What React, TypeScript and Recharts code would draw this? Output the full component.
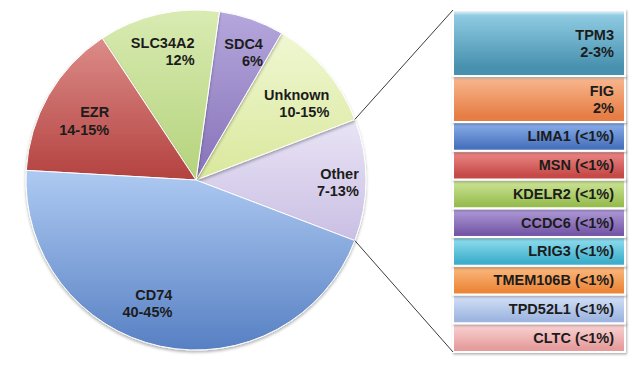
import React from 'react';
import { PieChart, Pie, Cell, BarChart, Bar, XAxis, YAxis, LabelList } from 'recharts';

// main pie (percent of the whole)
const pieNames = ['Other', 'Unknown', 'SDC4', 'SLC34A2', 'EZR', 'CD74'];
const pieValues = [11.6, 10.8, 6.2, 11.5, 14.8, 45.1];
const pieRanges = ['7-13%', '10-15%', '6%', '12%', '14-15%', '40-45%'];
const pieColors = [
  ['#e9e4f6', '#cabfe3'], // Other
  ['#f0f7d2', '#d9e89c'], // Unknown
  ['#b5a7dc', '#8672b9'], // SDC4
  ['#d9ebb2', '#b4d37c'], // SLC34A2
  ['#dc8c89', '#b3423f'], // EZR
  ['#aecaf2', '#5780c3'], // CD74
];
// small hand nudges so the labels sit where the original layout put them
const pieLabelNudge = [
  [8, 2],
  [0, 8],
  [5, -4],
  [-6, -1],
  [-2, 6],
  [-25, -5],
];

// breakdown of "Other", top to bottom
const barNames = ['TPM3', 'FIG', 'LIMA1', 'MSN', 'KDELR2', 'CCDC6', 'LRIG3', 'TMEM106B', 'TPD52L1', 'CLTC'];
const barValues = [2.3, 1.6, 1, 1, 1, 1, 1, 1, 1, 1];
const barRanges = ['2-3%', '2%', '<1%', '<1%', '<1%', '<1%', '<1%', '<1%', '<1%', '<1%'];
const barColors = [
  ['#8fcbe2', '#4690ae'], // TPM3
  ['#f8b48a', '#e57d45'], // FIG
  ['#86abe8', '#4772bd'], // LIMA1
  ['#ea8584', '#c44846'], // MSN
  ['#cbe394', '#98bd50'], // KDELR2
  ['#ad98d6', '#7558a8'], // CCDC6
  ['#8ddcee', '#3caecb'], // LRIG3
  ['#fbb77c', '#ec8638'], // TMEM106B
  ['#d3e0f6', '#9db5e0'], // TPD52L1
  ['#f9d1d1', '#e69c9c'], // CLTC
];

const W = 640;
const H = 365;
const PIE_CX = 196;
const PIE_CY = 180;
const PIE_R = 170;
const BAR_LEFT = 453;
const BAR_RIGHT = 625;
const BAR_TOP = 10;
const BAR_BOTTOM = 352;

const FONT = "'Liberation Sans', Arial, Helvetica, sans-serif";
const FS = 14.5;
const INK = '#1c1c1c';

const pieData = pieNames.map((name, i) => ({ name, value: pieValues[i], range: pieRanges[i] }));
const pieTotal = pieValues.reduce((a, b) => a + b, 0);
// "Other" is centred on 3 o'clock
const halfOther = (pieValues[0] / pieTotal) * 180;

const barRow: Record<string, number | string> = { name: 'Other' };
barNames.forEach((n, i) => {
  barRow[n] = barValues[i];
});
const barTotal = barValues.reduce((a, b) => a + b, 0);

const renderPieLabel = (props: any) => {
  const { cx, cy, midAngle, outerRadius, index } = props;
  const RAD = Math.PI / 180;
  const r = outerRadius * 0.77;
  const [nx, ny] = pieLabelNudge[index] || [0, 0];
  const x = cx + r * Math.cos(-midAngle * RAD) + nx;
  const y = cy + r * Math.sin(-midAngle * RAD) + ny;
  const lines = [pieNames[index], pieRanges[index]];
  const right = x + Math.max(...lines.map(l => l.length)) * FS * 0.33;
  return (
    <text x={right} y={y} textAnchor="end" fontFamily={FONT} fontWeight="bold" fontSize={FS} fill={INK}>
      <tspan x={right} y={y - 3.5}>{lines[0]}</tspan>
      <tspan x={right} y={y + 14}>{lines[1]}</tspan>
    </text>
  );
};

const renderBarLabel = (i: number) => (props: any) => {
  const vb = props.viewBox && props.viewBox.width !== undefined ? props.viewBox : props;
  const x = Number(vb.x);
  const y = Number(vb.y);
  const w = Number(vb.width);
  const h = Number(vb.height);
  const right = x + w - 11;
  const mid = y + h / 2;
  const range = barRanges[i];
  if (range.startsWith('<')) {
    return (
      <text x={right} y={mid + 5} textAnchor="end" fontFamily={FONT} fontWeight="bold" fontSize={FS} fill={INK}>
        {`${barNames[i]} (${range})`}
      </text>
    );
  }
  return (
    <text x={right} y={mid} textAnchor="end" fontFamily={FONT} fontWeight="bold" fontSize={FS} fill={INK}>
      <tspan x={right} y={mid - 3.5}>{barNames[i]}</tspan>
      <tspan x={right} y={mid + 14}>{range}</tspan>
    </text>
  );
};

export default function App() {
  const rad = (halfOther * Math.PI) / 180;
  const topX = PIE_CX + PIE_R * Math.cos(rad);
  const topY = PIE_CY - PIE_R * Math.sin(rad);
  const botY = PIE_CY + PIE_R * Math.sin(rad);

  return (
    <div style={{ position: 'absolute', left: 0, top: 0, width: W, height: H, background: '#fff' }}>
      <div style={{ position: 'absolute', left: 0, top: 0 }}>
        <PieChart width={W} height={H} margin={{ top: 0, right: 0, bottom: 0, left: 0 }}>
          <defs>
            {pieColors.map((c, i) => (
              <linearGradient key={i} id={`pg${i}`} x1="0" y1="0" x2="0" y2="1">
                <stop offset="0%" stopColor={c[0]} />
                <stop offset="100%" stopColor={c[1]} />
              </linearGradient>
            ))}
            <filter id="pieShadow" x="-10%" y="-10%" width="120%" height="120%">
              <feDropShadow dx="0" dy="2" stdDeviation="1.8" floodColor="#000" floodOpacity="0.3" />
            </filter>
          </defs>
          <Pie
            data={pieData}
            dataKey="value"
            nameKey="name"
            cx={PIE_CX}
            cy={PIE_CY}
            outerRadius={PIE_R}
            startAngle={-halfOther}
            endAngle={360 - halfOther}
            stroke="#ffffff"
            strokeWidth={1}
            labelLine={false}
            label={renderPieLabel}
            isAnimationActive={false}
          >
            {pieData.map((entry, index) => (
              <Cell key={`cell-${index}`} fill={`url(#pg${index})`} filter="url(#pieShadow)" />
            ))}
          </Pie>
        </PieChart>
      </div>
      <div style={{ position: 'absolute', left: 0, top: 0 }}>
        <BarChart
          width={W}
          height={H}
          data={[barRow]}
          margin={{ top: BAR_TOP, right: W - BAR_RIGHT, bottom: H - BAR_BOTTOM, left: BAR_LEFT }}
          barCategoryGap={0}
        >
          <defs>
            {barColors.map((c, i) => (
              <linearGradient key={i} id={`bg${i}`} x1="0" y1="0" x2="0" y2="1">
                <stop offset="0%" stopColor="#ffffff" stopOpacity={0.8} />
                <stop offset="8%" stopColor={c[0]} />
                <stop offset="88%" stopColor={c[1]} />
                <stop offset="100%" stopColor={c[1]} />
              </linearGradient>
            ))}
            <filter id="barShadow" x="-10%" y="-10%" width="120%" height="130%">
              <feDropShadow dx="1" dy="1.5" stdDeviation="1.2" floodColor="#000" floodOpacity="0.3" />
            </filter>
          </defs>
          <XAxis dataKey="name" type="category" hide />
          <YAxis type="number" domain={[0, barTotal]} hide />
          {barNames
            .map((n, i) => ({ n, i }))
            .reverse()
            .map(({ n, i }) => (
              <Bar
                key={n}
                dataKey={n}
                stackId="other"
                fill={`url(#bg${i})`}
                stroke="#ffffff"
                strokeWidth={2}
                filter="url(#barShadow)"
                isAnimationActive={false}
              >
                <LabelList dataKey={n} content={renderBarLabel(i)} />
              </Bar>
            ))}
        </BarChart>
      </div>
      <svg
        width={W}
        height={H}
        style={{ position: 'absolute', left: 0, top: 0, pointerEvents: 'none' }}
      >
        <line x1={topX} y1={topY} x2={BAR_LEFT} y2={BAR_TOP} stroke="#3a3a3a" strokeWidth={1} />
        <line x1={topX} y1={botY} x2={BAR_LEFT} y2={BAR_BOTTOM} stroke="#3a3a3a" strokeWidth={1} />
      </svg>
    </div>
  );
}
